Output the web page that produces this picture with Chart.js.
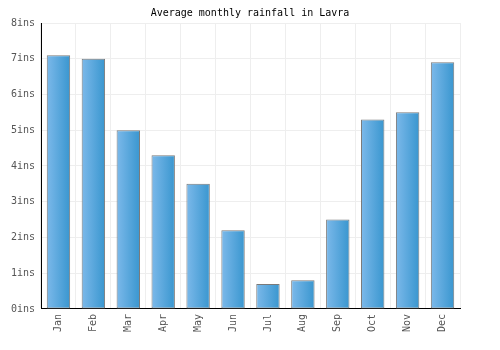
<!DOCTYPE html>
<html>
<head>
<meta charset="utf-8">
<script src="https://cdn.jsdelivr.net/npm/chart.js@4"></script>
<style>
  html, body { margin:0; padding:0; background:#fff; }
  #wrap { width:500px; height:350px; }
</style>
</head>
<body>
<div id="wrap"><canvas id="rainChart"></canvas></div>
<script>
const months = ['Jan','Feb','Mar','Apr','May','Jun','Jul','Aug','Sep','Oct','Nov','Dec'];
const rainfall = [7.1, 7.0, 5.0, 4.3, 3.5, 2.2, 0.7, 0.8, 2.5, 5.3, 5.5, 6.9];
const yTicks = [0, 1, 2, 3, 4, 5, 6, 7, 8];

const barPct = 0.67;
const mono = 'DejaVu Sans Mono';

function barGradient(ctx) {
  const chart = ctx.chart;
  const xs = chart.scales.x;
  if (!chart.chartArea || !xs) return '#4fa3dc';
  const cx = xs.getPixelForValue(ctx.dataIndex);
  const half = (chart.chartArea.width / months.length) * barPct / 2;
  const g = chart.ctx.createLinearGradient(cx - half, 0, cx + half, 0);
  g.addColorStop(0, '#7cb9ea');
  g.addColorStop(1, '#3996cf');
  return g;
}

new Chart(document.getElementById('rainChart'), {
  type: 'bar',
  data: {
    labels: months,
    datasets: [{
      data: rainfall,
      backgroundColor: barGradient,
      borderColor: '#7a7a7a',
      borderWidth: 1,
      borderSkipped: false,
      barPercentage: barPct,
      categoryPercentage: 1
    }]
  },
  options: {
    responsive: true,
    maintainAspectRatio: false,
    animation: false,
    layout: { padding: { left: 0, right: 0, top: 0, bottom: 13 } },
    plugins: {
      legend: { display: false },
      tooltip: { enabled: false },
      title: {
        display: true,
        text: 'Average monthly rainfall in Lavra',
        color: '#000',
        font: { family: mono, size: 10, weight: 'normal' },
        padding: { top: 7, bottom: 4 }
      }
    },
    scales: {
      x: {
        grid: { color: '#eeeeee', drawTicks: false, offset: true },
        border: { color: '#000', width: 1 },
        ticks: {
          color: '#555',
          font: { family: mono, size: 10 },
          minRotation: 90, maxRotation: 90,
          padding: 5
        }
      },
      y: {
        min: yTicks[0],
        max: yTicks[yTicks.length - 1],
        afterBuildTicks: axis => { axis.ticks = yTicks.map(v => ({ value: v })); },
        afterFit: axis => { axis.width = 41; },
        grid: { color: '#eeeeee', drawTicks: false },
        border: { color: '#000', width: 1 },
        ticks: {
          color: '#555',
          font: { family: mono, size: 10 },
          padding: 6,
          callback: v => v + 'ins'
        }
      },
      // empty right-hand gutter so the title centres on the whole canvas
      yRight: {
        position: 'right',
        min: 0, max: 8,
        grid: { display: false },
        border: { display: false },
        ticks: { display: false },
        afterFit: axis => { axis.width = 40; }
      }
    }
  }
});
</script>
</body>
</html>
